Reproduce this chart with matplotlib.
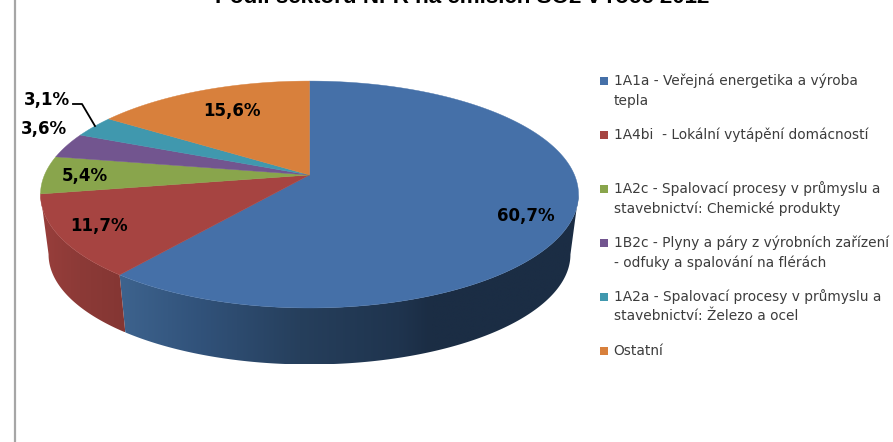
import matplotlib
matplotlib.use("Agg")

import matplotlib.pyplot as plt
import numpy as np
from matplotlib.colors import LinearSegmentedColormap
from matplotlib.patches import Polygon, Rectangle

W, H = 893, 442

sectors = [
    "1A1a - Veřejná energetika a výroba\ntepla",
    "1A4bi  - Lokální vytápění domácností",
    "1A2c - Spalovací procesy v průmyslu a\nstavebnictví: Chemické produkty",
    "1B2c - Plyny a páry z výrobních zařízení\n- odfuky a spalování na flérách",
    "1A2a - Spalovací procesy v průmyslu a\nstavebnictví: Železo a ocel",
    "Ostatní",
]
shares = [60.7, 11.7, 5.4, 3.6, 3.1, 15.6]
colors = ["#4570a8", "#a64441", "#89a54c", "#72558f", "#4098ae", "#d8803c"]
title = "Podíl sektorů NFR na emisích SO2 v roce 2012"

# where the percent labels sit, in pixels (centre of text)
label_pos = [(526, 216), (99, 226), (85, 176), (44, 129), (47, 100), (232, 111)]
legend_y = [81, 135, 189, 243, 297, 351]
line_step = 19.5

# pie geometry: a tilted disc seen with a little perspective
cx, cy = 309.5, 175.0
rx, ry = 265.0, 110.1
persp = -0.172
depth, bottom_scale = 60.5, 0.97


def rim(theta, lower=False):
    """Screen position of a rim point, theta = degrees clockwise from 12 o'clock."""
    t = np.radians(theta)
    u, v = np.sin(t), -np.cos(t)
    d = 1 + persp * v
    x, y = rx * u / d, ry * v / d
    if lower:
        return cx + bottom_scale * x, cy + depth + bottom_scale * y
    return cx + x, cy + y


def draw_wall(ax, start, stop, stops):
    """Shaded outer wall between two angles, gradient runs left to right."""
    th = np.linspace(start, stop, 200)
    xt, yt = rim(th)
    xb, yb = rim(th, lower=True)
    pts = np.column_stack([np.r_[xt, xb[::-1]], np.r_[yt, yb[::-1]]])
    patch = Polygon(pts, closed=True, facecolor="none", edgecolor="none")
    ax.add_patch(patch)
    x0, x1 = stops[0][0], stops[-1][0]
    y0, y1 = pts[:, 1].min(), pts[:, 1].max()
    cmap = LinearSegmentedColormap.from_list(
        "wall", [((x - x0) / (x1 - x0), c) for x, c in stops])
    im = ax.imshow(np.linspace(0, 1, 256)[None, :], cmap=cmap, aspect="auto",
                   extent=[x0, x1, y1, y0], interpolation="bilinear")
    im.set_clip_path(patch)


fig = plt.figure(figsize=(W / 100, H / 100), dpi=100)
ax = fig.add_axes([0, 0, 1, 1])

edges = np.cumsum([0] + shares) / sum(shares) * 360

# visible wall: from right extreme round the front to left extreme
draw_wall(ax, 99.9, edges[1], [(115, "#3e648f"), (200, "#31527a"), (300, "#263f5c"),
                               (400, "#1f344e"), (430, "#1b2d44"), (582, "#1b2d44")])
draw_wall(ax, edges[1], 260.2, [(36, "#9a3f3c"), (80, "#8c3a37"), (125, "#843633")])

ax.set_xlim(0, W)
ax.set_ylim(H, 0)
ax.axis("off")

# frame line on the left
ax.plot([14.5, 14.5], [0, H], color="#a6a6a6", lw=1.6, solid_capstyle="butt")

ax.text(462, 3, title, ha="center", va="baseline", fontsize=16.1,
        fontweight="bold", family="Liberation Sans", color="black", clip_on=False)

# top faces
for start, stop, c in zip(edges[:-1], edges[1:], colors):
    th = np.linspace(start, stop, 200)
    xs, ys = rim(th)
    pts = np.column_stack([np.r_[cx, xs], np.r_[cy, ys]])
    ax.add_patch(Polygon(pts, closed=True, facecolor=c, edgecolor=c, lw=0.3))

for val, (lx, ly) in zip(shares, label_pos):
    ax.text(lx, ly, f"{val:.1f}%".replace(".", ","), ha="center", va="center",
            fontsize=12, fontweight="bold", family="DejaVu Sans", color="black")

# leader for the 3,1% label
ax.plot([73, 82, 95], [104, 104, 126], color="black", lw=1.3)

for name, c, y in zip(sectors, colors, legend_y):
    ax.add_patch(Rectangle((600, y - 4), 8, 8, facecolor=c, edgecolor="none"))
    for i, line in enumerate(name.split("\n")):
        ax.text(613.5, y + i * line_step, line, ha="left", va="center",
                fontsize=9.95, family="DejaVu Sans", color="#3c3c3c")

fig.savefig("out.png", dpi=100)
